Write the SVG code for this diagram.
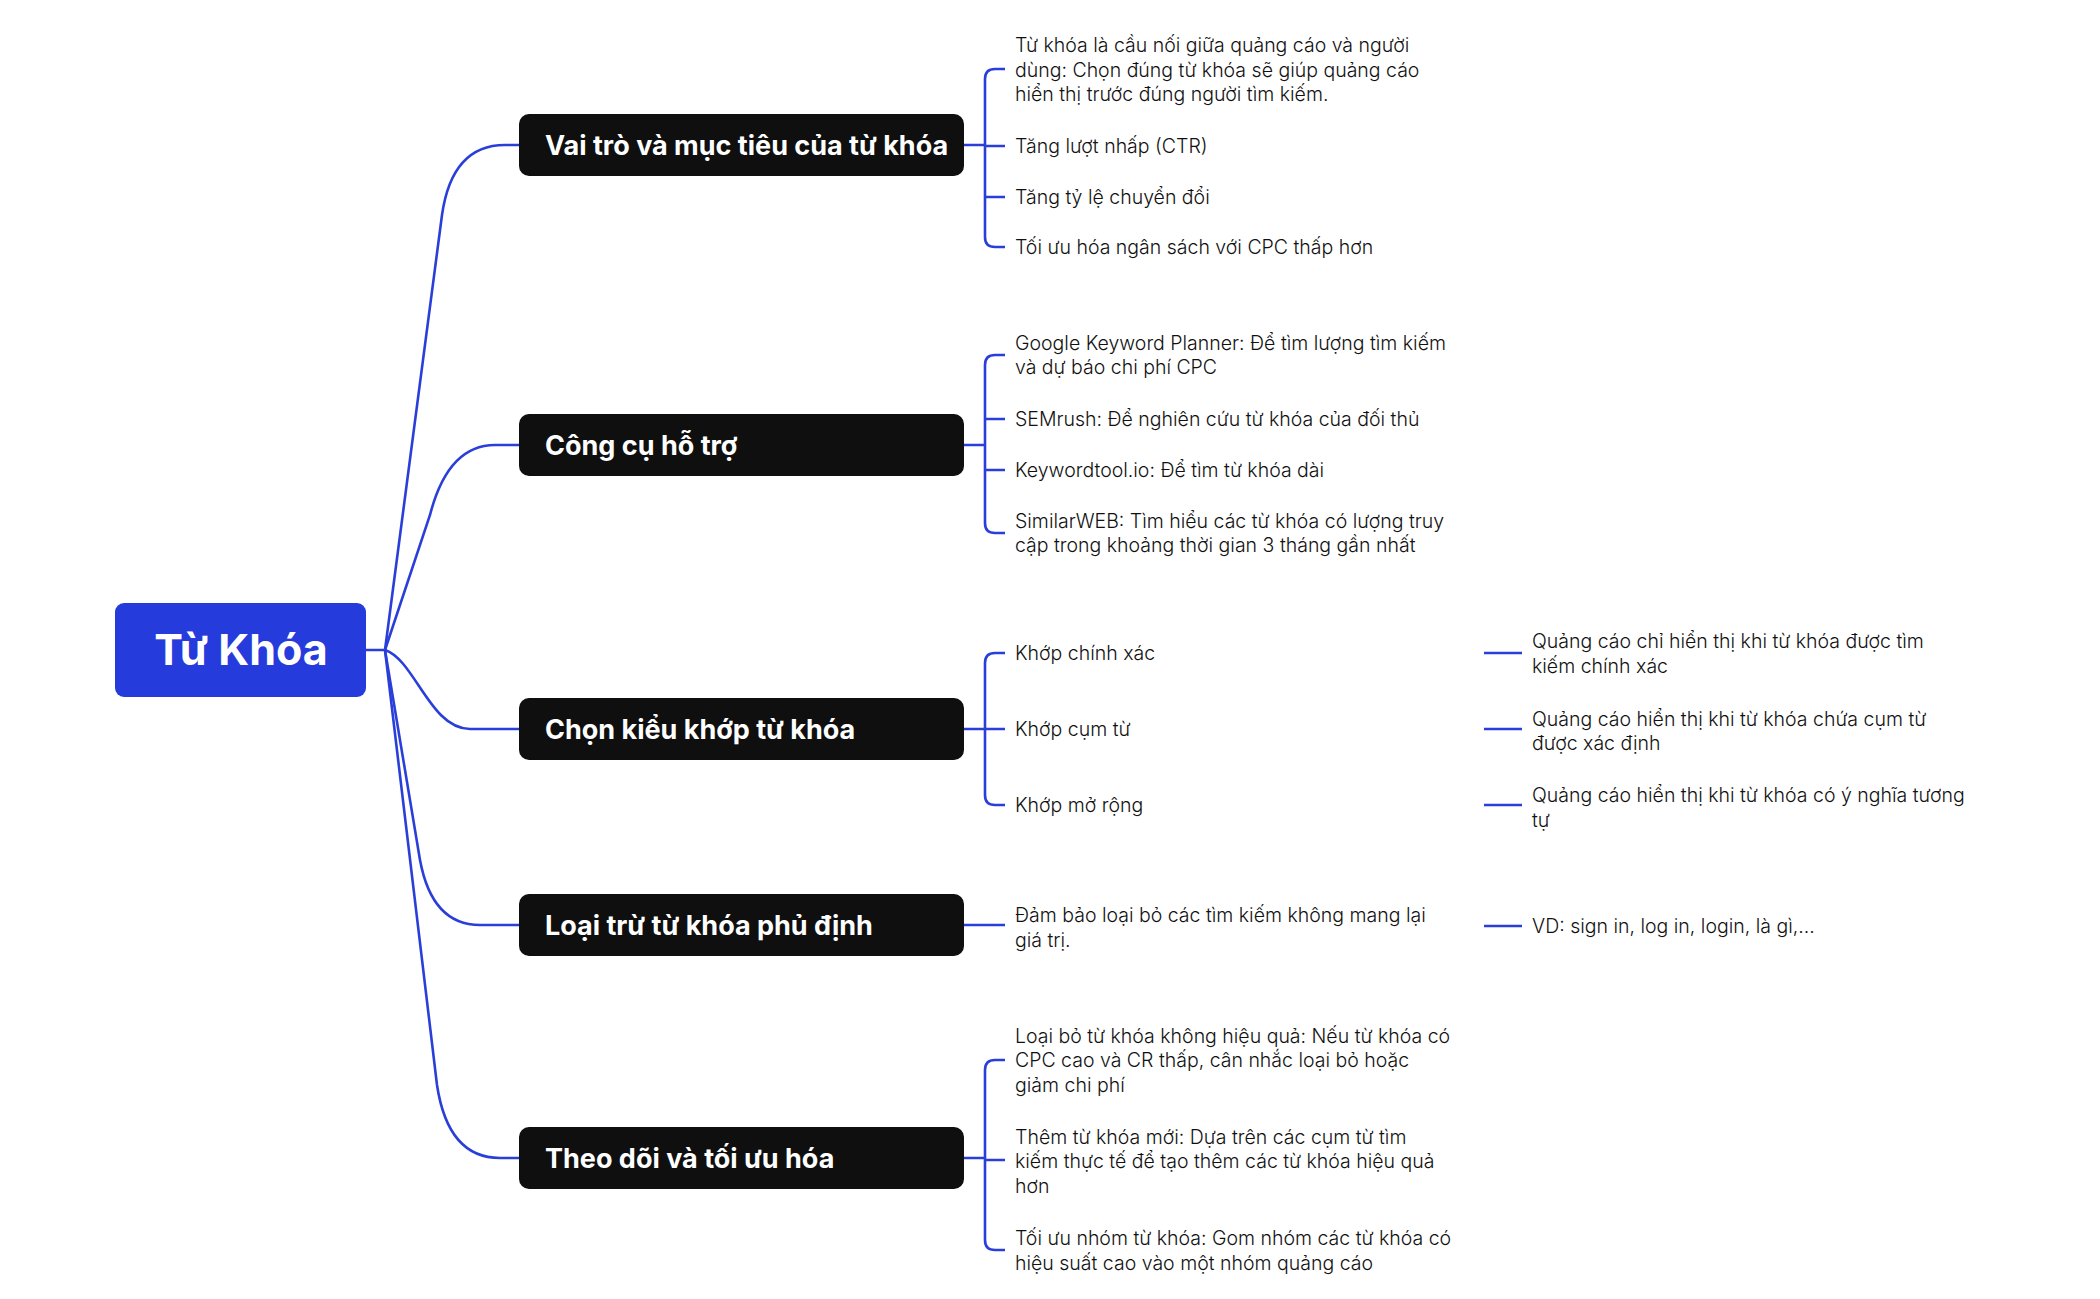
<svg xmlns="http://www.w3.org/2000/svg" width="2100" height="1299" viewBox="0 0 2100 1299">
<style>
.c{fill:none;stroke:#2a3fd9;stroke-width:2.6}
.b{fill:#0f0f0f}
.bt{font-family:Inter,"Noto Sans",sans-serif;font-weight:700;font-size:27px;fill:#fff}
.t{font-family:Inter,"Noto Sans",sans-serif;font-weight:300;font-size:19.5px;fill:#111}
</style>
<rect width="2100" height="1299" fill="#fff"/>
<g id="connectors">
<path class="c" d="M366,650 H385 M385,650 L442,215 Q452,145 505,145 L519,145"/>
<path class="c" d="M385,650 L430,515 Q448,445 495,445 L519,445"/>
<path class="c" d="M385,650 C415,660 430,729 470,729 L519,729"/>
<path class="c" d="M385,650 L420,860 Q432,925 480,925 L519,925"/>
<path class="c" d="M385,650 L437,1085 Q448,1158 500,1158 L519,1158"/>
<path class="c" d="M964,145 H985 M1005,69 H995 Q985,69 985,79 V237 Q985,247 995,247 H1005 M985,146 H1005 M985,197 H1005"/>
<path class="c" d="M964,445 H985 M1005,355 H995 Q985,355 985,365 V523 Q985,533 995,533 H1005 M985,419 H1005 M985,470 H1005"/>
<path class="c" d="M964,729 H985 M1005,653 H995 Q985,653 985,663 V795 Q985,805 995,805 H1005 M985,729 H1005"/>
<path class="c" d="M964,925 H1005"/>
<path class="c" d="M964,1158 H985 M1005,1060 H995 Q985,1060 985,1070 V1240 Q985,1250 995,1250 H1005 M985,1160 H1005"/>
<path class="c" d="M1484,653 H1522 M1484,729 H1522 M1484,805 H1522 M1484,926 H1522"/>
</g>
<g id="root"><rect x="115" y="603" width="251" height="94" rx="9" fill="#263bdc"/><text x="241" y="665" text-anchor="middle" font-family="Inter,'Noto Sans',sans-serif" font-weight="700" font-size="43" fill="#fff">Từ Khóa</text></g>
<g id="n1"><rect class="b" x="519" y="114" width="445" height="62" rx="10"/><text class="bt" x="545" y="155">Vai trò và mục tiêu của từ khóa</text></g>
<g id="n2"><rect class="b" x="519" y="414" width="445" height="62" rx="10"/><text class="bt" x="545" y="455">Công cụ hỗ trợ</text></g>
<g id="n3"><rect class="b" x="519" y="698" width="445" height="62" rx="10"/><text class="bt" x="545" y="739">Chọn kiểu khớp từ khóa</text></g>
<g id="n4"><rect class="b" x="519" y="894" width="445" height="62" rx="10"/><text class="bt" x="545" y="935">Loại trừ từ khóa phủ định</text></g>
<g id="n5"><rect class="b" x="519" y="1127" width="445" height="62" rx="10"/><text class="bt" x="545" y="1168">Theo dõi và tối ưu hóa</text></g>
<g id="leaves">
<text class="t" x="1015" y="52">Từ khóa là cầu nối giữa quảng cáo và người</text>
<text class="t" x="1015" y="77">dùng: Chọn đúng từ khóa sẽ giúp quảng cáo</text>
<text class="t" x="1015" y="101">hiển thị trước đúng người tìm kiếm.</text>
<text class="t" x="1015" y="153">Tăng lượt nhấp (CTR)</text>
<text class="t" x="1015" y="204">Tăng tỷ lệ chuyển đổi</text>
<text class="t" x="1015" y="254">Tối ưu hóa ngân sách với CPC thấp hơn</text>
<text class="t" x="1015" y="350">Google Keyword Planner: Để tìm lượng tìm kiếm</text>
<text class="t" x="1015" y="374">và dự báo chi phí CPC</text>
<text class="t" x="1015" y="426">SEMrush: Để nghiên cứu từ khóa của đối thủ</text>
<text class="t" x="1015" y="477">Keywordtool.io: Để tìm từ khóa dài</text>
<text class="t" x="1015" y="528">SimilarWEB: Tìm hiểu các từ khóa có lượng truy</text>
<text class="t" x="1015" y="552">cập trong khoảng thời gian 3 tháng gần nhất</text>
<text class="t" x="1015" y="660">Khớp chính xác</text>
<text class="t" x="1015" y="736">Khớp cụm từ</text>
<text class="t" x="1015" y="812">Khớp mở rộng</text>
<text class="t" x="1015" y="922">Đảm bảo loại bỏ các tìm kiếm không mang lại</text>
<text class="t" x="1015" y="947">giá trị.</text>
<text class="t" x="1015" y="1043">Loại bỏ từ khóa không hiệu quả: Nếu từ khóa có</text>
<text class="t" x="1015" y="1067">CPC cao và CR thấp, cân nhắc loại bỏ hoặc</text>
<text class="t" x="1015" y="1092">giảm chi phí</text>
<text class="t" x="1015" y="1144">Thêm từ khóa mới: Dựa trên các cụm từ tìm</text>
<text class="t" x="1015" y="1168">kiếm thực tế để tạo thêm các từ khóa hiệu quả</text>
<text class="t" x="1015" y="1193">hơn</text>
<text class="t" x="1015" y="1245">Tối ưu nhóm từ khóa: Gom nhóm các từ khóa có</text>
<text class="t" x="1015" y="1270">hiệu suất cao vào một nhóm quảng cáo</text>
<text class="t" x="1532" y="648">Quảng cáo chỉ hiển thị khi từ khóa được tìm</text>
<text class="t" x="1532" y="673">kiếm chính xác</text>
<text class="t" x="1532" y="726">Quảng cáo hiển thị khi từ khóa chứa cụm từ</text>
<text class="t" x="1532" y="750">được xác định</text>
<text class="t" x="1532" y="802">Quảng cáo hiển thị khi từ khóa có ý nghĩa tương</text>
<text class="t" x="1532" y="827">tự</text>
<text class="t" x="1532" y="933">VD: sign in, log in, login, là gì,...</text>
</g>
</svg>
